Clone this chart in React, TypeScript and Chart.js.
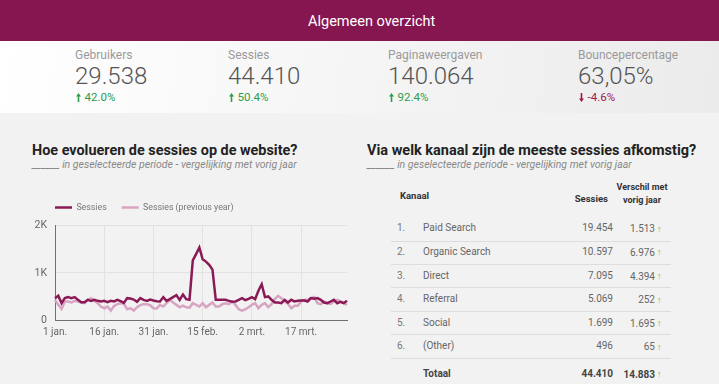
import React, { useEffect, useRef } from "react";
import { Chart, registerables } from "chart.js";

Chart.register(...registerables);

// ---------- data ----------
const monthNames = ["jan.", "feb.", "mrt."];
const monthDays = [31, 28, 31];
const dayLabels: string[] = [];
monthNames.forEach((m, mi) => {
  for (let d = 1; d <= monthDays[mi]; d++) dayLabels.push(`${d} ${m}`);
});

const sessies = [
  460, 514, 357, 464, 486, 464, 486, 428, 378, 378,
  428, 407, 428, 407, 393, 407, 378, 407, 393, 428,
  400, 364, 464, 457, 435, 386, 464, 428, 407, 435,
  414, 400, 393, 486, 407, 443, 486, 528, 428, 543,
  443, 428, 1265, 1400, 1540, 1290, 1240, 1170, 1070, 428,
  428, 428, 428, 407, 386, 393, 428, 464, 421, 450,
  486, 443, 620, 760, 486, 500, 428, 371, 371, 357,
  428, 371, 428, 393, 407, 414, 414, 393, 464, 450,
  464, 428, 371, 357, 393, 428, 357, 386, 357, 407,
];

const sessiesPrev = [
  428, 321, 236, 393, 393, 371, 407, 393, 371, 357,
  428, 464, 407, 357, 286, 250, 286, 200, 300, 336,
  357, 343, 228, 250, 200, 271, 314, 336, 336, 314,
  250, 243, 321, 286, 357, 428, 371, 321, 271, 307,
  271, 264, 357, 321, 286, 357, 271, 321, 371, 286,
  286, 336, 357, 336, 393, 321, 228, 200, 228, 271,
  321, 357, 250, 321, 357, 271, 336, 443, 514, 464,
  393, 343, 250, 300, 300, 393, 428, 428, 464, 486,
  357, 336, 393, 357, 343, 393, 428, 393, 357, 321,
];

const seriesNames = ["Sessies", "Sessies (previous year)"];
const yTickValues = [0, 1000, 2000];
const yTickLabels = ["0", "1K", "2K"];
const xTickEvery = 15;

const kpiLabels = ["Gebruikers", "Sessies", "Paginaweergaven", "Bouncepercentage"];
const kpiValues = ["29.538", "44.410", "140.064", "63,05%"];
const kpiDeltas = ["42.0%", "50.4%", "92.4%", "-4.6%"];
const kpiUp = [true, true, true, false];

const kanalen = ["Paid Search", "Organic Search", "Direct", "Referral", "Social", "(Other)"];
const kanaalSessies = ["19.454", "10.597", "7.095", "5.069", "1.699", "496"];
const kanaalVerschil = ["1.513", "6.976", "4.394", "252", "1.695", "65"];
const totaalSessies = "44.410";
const totaalVerschil = "14.883";

// ---------- helpers ----------
const W = 719;
const FONT = "Roboto, 'Noto Sans', sans-serif";

type TxtProps = {
  x: number;
  y: number;
  size: number;
  weight?: number;
  color?: string;
  align?: "left" | "right" | "center";
  italic?: boolean;
  children: React.ReactNode;
};

function Txt({ x, y, size, weight = 400, color = "#555", align = "left", italic = false, children }: TxtProps) {
  const style: React.CSSProperties = {
    position: "absolute",
    top: y - size * 0.6,
    lineHeight: `${size * 1.2}px`,
    fontSize: size,
    fontWeight: weight,
    color,
    whiteSpace: "nowrap",
    fontStyle: italic ? "italic" : "normal",
  };
  if (align === "left") style.left = x;
  else if (align === "right") style.right = W - x;
  else {
    style.left = x;
    style.transform = "translateX(-50%)";
  }
  return <div style={style}>{children}</div>;
}

function Arrow({ x, y, up, color }: { x: number; y: number; up: boolean; color: string }) {
  return (
    <svg
      width={5}
      height={9}
      viewBox="0 0 5 9"
      style={{ position: "absolute", left: x, top: y, transform: up ? "none" : "rotate(180deg)" }}
    >
      <path d="M2.5 0 L5 3.6 L3.3 3.6 L3.3 9 L1.7 9 L1.7 3.6 L0 3.6 Z" fill={color} />
    </svg>
  );
}

// legend: extra space below it, and start it at the plot's left edge
const legendTweak = {
  id: "legendTweak",
  beforeLayout(chart: any) {
    const lg = chart.legend;
    if (lg && !lg._gapPatched) {
      const fit = lg.fit;
      lg.fit = function () {
        fit.call(this);
        this.height += 4;
      };
      lg._gapPatched = true;
    }
  },
  afterLayout(chart: any) {
    const lg = chart.legend;
    if (!lg) return;
    const pad = lg.options.labels.padding;
    const dx = chart.chartArea.left - pad - lg.left;
    lg.left += dx;
    lg.right += dx;
  },
};

function SessionsChart() {
  const ref = useRef<HTMLCanvasElement | null>(null);
  useEffect(() => {
    if (!ref.current) return;
    const chart = new Chart(ref.current, {
      type: "line",
      data: {
        labels: dayLabels,
        datasets: [
          {
            label: seriesNames[0],
            data: sessies,
            borderColor: "#8a1a56",
            backgroundColor: "#8a1a56",
            borderWidth: 2.5,
            pointRadius: 0,
            tension: 0,
          },
          {
            label: seriesNames[1],
            data: sessiesPrev,
            borderColor: "#d7a5c2",
            backgroundColor: "#d7a5c2",
            borderWidth: 2.5,
            pointRadius: 0,
            tension: 0,
          },
        ],
      },
      options: {
        animation: false,
        responsive: false,
        maintainAspectRatio: false,
        layout: { padding: { left: 20, right: 13, top: 8, bottom: 6 } },
        font: { family: FONT },
        plugins: {
          legend: {
            position: "top",
            align: "start",
            labels: {
              usePointStyle: true,
              pointStyle: "line",
              pointStyleWidth: 17,
              padding: 15,
              color: "#777",
              font: { size: 8.8, family: FONT },
            },
          },
          tooltip: { enabled: false },
        },
        scales: {
          x: {
            type: "category",
            offset: false,
            grid: { color: "#e2e2e2", drawTicks: false },
            border: { color: "#707070", width: 1 },
            ticks: {
              autoSkip: false,
              maxRotation: 0,
              padding: 6,
              color: "#666",
              font: { size: 10, family: FONT },
            },
            afterBuildTicks: (axis: any) => {
              axis.ticks = axis.ticks.filter((t: any) => t.value % xTickEvery === 0);
            },
          },
          y: {
            min: yTickValues[0],
            max: yTickValues[yTickValues.length - 1],
            afterFit: (s: any) => {
              s.width = 35;
            },
            afterBuildTicks: (axis: any) => {
              axis.ticks = yTickValues.map((v) => ({ value: v }));
            },
            grid: { color: "#e2e2e2", drawTicks: false },
            border: { color: "#707070", width: 1 },
            ticks: {
              padding: 8,
              color: "#666",
              font: { size: 10.5, family: FONT },
              callback: (v: any) => yTickLabels[yTickValues.indexOf(Number(v))] ?? "",
            },
          },
        },
      } as any,
      plugins: [legendTweak],
    });
    return () => chart.destroy();
  }, []);
  return (
    <canvas
      ref={ref}
      width={360}
      height={170}
      style={{ position: "absolute", left: 0, top: 180, width: 360, height: 170 }}
    />
  );
}

export default function App() {
  useEffect(() => {
    document.body.style.margin = "0";
  }, []);
  const kpiX = [75, 228, 388, 578];
  const rowY = [228.3, 251.8, 275.5, 299, 322.6, 346];
  const sepY = [240.7, 263.8, 287.3, 310.8, 334.3, 358];
  return (
    <div
      style={{
        position: "fixed",
        left: 0,
        top: 0,
        width: W,
        height: 384,
        overflow: "hidden",
        background: "#f2f2f2",
        fontFamily: FONT,
      }}
    >
      {/* header */}
      <div style={{ position: "absolute", left: 0, top: 0, width: W, height: 41, background: "#861650" }} />
      <Txt x={308} y={21.5} size={14.5} color="#ffffff">
        Algemeen overzicht
      </Txt>

      {/* KPI panel */}
      <div
        style={{
          position: "absolute",
          left: 0,
          top: 41,
          width: W,
          height: 72,
          background: "linear-gradient(100deg, #ffffff 0%, #f6f6f6 45%, #ebebeb 100%)",
        }}
      />
      {kpiLabels.map((l, i) => (
        <React.Fragment key={l}>
          <Txt x={kpiX[i]} y={55} size={12} color="#9a9a9a">
            {l}
          </Txt>
          <Txt x={kpiX[i]} y={76} size={24} weight={300} color="#555">
            {kpiValues[i]}
          </Txt>
          <Arrow x={kpiX[i] + 0.5} y={93} up={kpiUp[i]} color={kpiUp[i] ? "#2f9d4f" : "#a01650"} />
          <Txt x={kpiX[i] + 9.5} y={97.5} size={11.5} color={kpiUp[i] ? "#2f9d4f" : "#a01650"}>
            {kpiDeltas[i]}
          </Txt>
        </React.Fragment>
      ))}

      {/* left section */}
      <Txt x={32} y={150.5} size={14.4} weight={700} color="#222">
        Hoe evolueren de sessies op de website?
      </Txt>
      <Txt x={32} y={165} size={10.5} italic color="#888">
        ______ in geselecteerde periode - vergelijking met vorig jaar
      </Txt>
      <SessionsChart />

      {/* right section */}
      <Txt x={367} y={150.5} size={14.5} weight={700} color="#222">
        Via welk kanaal zijn de meeste sessies afkomstig?
      </Txt>
      <Txt x={367} y={165} size={10.5} italic color="#888">
        ______ in geselecteerde periode - vergelijking met vorig jaar
      </Txt>

      <Txt x={400} y={195.7} size={9.5} weight={700} color="#333">
        Kanaal
      </Txt>
      <Txt x={608} y={199} size={9.5} weight={700} color="#333" align="right">
        Sessies
      </Txt>
      <Txt x={642} y={187.5} size={9} weight={700} color="#333" align="center">
        Verschil met
      </Txt>
      <Txt x={642} y={200.7} size={9} weight={700} color="#333" align="center">
        vorig jaar
      </Txt>

      {kanalen.map((k, i) => (
        <React.Fragment key={k}>
          <Txt x={397} y={rowY[i]} size={10} color="#777">
            {`${i + 1}.`}
          </Txt>
          <Txt x={423} y={rowY[i]} size={10} color="#666">
            {k}
          </Txt>
          <Txt x={613} y={rowY[i]} size={10} color="#666" align="right">
            {kanaalSessies[i]}
          </Txt>
          <Txt x={655} y={rowY[i] + 1} size={10} color="#666" align="right">
            {kanaalVerschil[i]}
          </Txt>
          <Txt x={657} y={rowY[i] + 1} size={9} weight={700} color="#7cb342">
            ↑
          </Txt>
          <div
            style={{ position: "absolute", left: 391, top: sepY[i], width: 280, height: 1, background: "#dddddd" }}
          />
        </React.Fragment>
      ))}
      <Txt x={423} y={374} size={10} weight={700} color="#444">
        Totaal
      </Txt>
      <Txt x={613} y={374} size={10} weight={700} color="#444" align="right">
        {totaalSessies}
      </Txt>
      <Txt x={655} y={374.5} size={10} weight={700} color="#444" align="right">
        {totaalVerschil}
      </Txt>
      <Txt x={657} y={374.5} size={9} weight={700} color="#7cb342">
        ↑
      </Txt>
    </div>
  );
}
